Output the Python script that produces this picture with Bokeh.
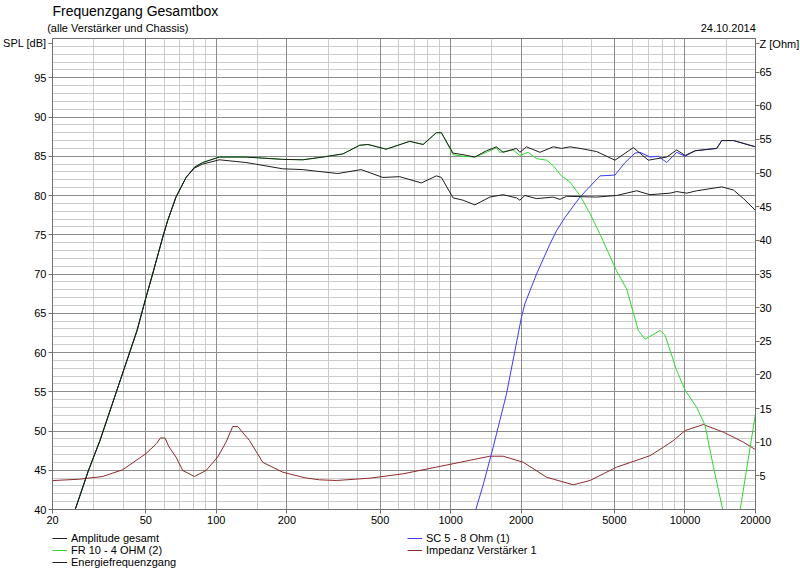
from bokeh.plotting import figure
from bokeh.layouts import column
from bokeh.models import (Range1d, LinearAxis, LogAxis, FixedTicker, Grid, Legend,
                          LegendItem, BasicTickFormatter, Title)
from bokeh.embed import file_html
from bokeh.resources import INLINE

# ---------------- data ----------------
amp_freq = [25.0, 28.5, 31.9, 45.9, 50.1, 53.5, 59.1, 62.0, 67.3, 74.3, 80.7, 87.5, 103, 134,
            192, 234, 285, 347, 409, 444, 531, 669, 763, 869, 913, 1024, 1130, 1268, 1422,
            1568, 1675, 1910, 1974, 2106, 2404, 2740, 2972, 3230, 3564, 4196, 5028, 6020,
            6978, 8356, 9220, 10018, 11052, 13666, 14356, 16108, 20000]
amp_spl = [40.0, 45.0, 48.8, 62.8, 67.0, 70.0, 74.7, 76.8, 79.8, 82.3, 83.6, 84.2, 84.9, 84.9,
           84.6, 84.55, 84.9, 85.3, 86.4, 86.5, 85.9, 86.9, 86.5, 88.0, 88.0, 85.4, 85.2, 84.9, 85.7,
           86.2, 85.5, 86.0, 85.5, 86.2, 85.5, 86.2, 86.0, 86.2, 86.0, 85.6, 84.5, 86.1,
           84.5, 84.9, 85.8, 85.1, 85.7, 86.0, 87.0, 87.0, 86.2]

energy_freq = [25.0, 28.5, 31.9, 45.9, 50.1, 53.5, 59.1, 62.0, 67.3, 74.3, 80.7, 87.5, 103, 134,
               147, 192, 234, 267, 330, 415, 514, 606, 750, 869, 913, 1024, 1130, 1268, 1470,
               1675, 1910, 1974, 2074, 2326, 2740, 2926, 3124, 4196, 5108, 6218, 7096, 8642,
               9220, 10172, 11226, 14356, 16108, 17774, 20000]
energy_spl = [40.0, 45.0, 48.8, 62.8, 67.0, 70.0, 74.7, 76.8, 79.8, 82.3, 83.5, 84.0, 84.55, 84.2,
              84.0, 83.4, 83.3, 83.1, 82.8, 83.3, 82.3, 82.4, 81.6, 82.5, 82.3, 79.7, 79.4, 78.8, 79.8,
              80.1, 79.7, 79.4, 80.0, 79.6, 79.8, 79.5, 79.9, 79.8, 80.0, 80.6, 80.1, 80.3,
              80.5, 80.3, 80.6, 81.1, 80.7, 79.6, 78.1]

fr10_freq = [25.0, 28.5, 31.9, 45.9, 50.1, 53.5, 59.1, 62.0, 67.3, 74.3, 80.7, 87.5, 103, 134,
             192, 234, 285, 347, 409, 444, 531, 669, 763, 869, 913, 1024, 1130, 1268, 1422,
             1568, 1620, 1848, 1974, 2142, 2326, 2566, 2740, 2972, 3230, 3564, 3932, 4338,
             5108, 5636, 6325, 6756, 7830, 8226, 9220, 10018, 11226, 12190, 13228, 14498,
             17206, 20000]
fr10_spl = [40.0, 45.0, 48.8, 62.8, 67.0, 70.0, 74.7, 76.8, 79.8, 82.3, 83.6, 84.2, 84.9, 84.9,
            84.6, 84.55, 84.9, 85.3, 86.4, 86.5, 85.9, 86.9, 86.5, 88.0, 88.0, 85.2, 85.0, 84.9, 85.5,
            86.1, 85.5, 85.8, 85.1, 85.5, 84.7, 84.5, 83.8, 82.5, 81.7, 80.0, 77.7, 75.1,
            70.4, 68.1, 62.8, 61.7, 62.8, 62.2, 57.7, 55.2, 53.0, 50.7, 45.4, 40.0,
            40.0, 52.2]

sc5_freq = [20, 1281, 1376, 1518, 1731, 2006, 2074, 2326, 2652, 2830, 3074, 3564, 4338, 5028,
            5550, 6122, 6432, 7096, 7700, 8356, 9220, 10018, 11052, 13666, 14356, 16108, 20000]
sc5_spl = [40.0, 40.0, 43.1, 47.9, 54.7, 64.5, 66.2, 70.0, 73.8, 75.5, 77.2, 79.8, 82.5, 82.6,
           84.2, 85.4, 85.5, 84.9, 85.0, 84.2, 85.5, 85.0, 85.7, 86.0, 87.0, 87.0, 86.2]

imp_freq = [20, 26, 32.7, 39.8, 50.1, 55.6, 57.8, 60.5, 62.6, 67.3, 71.9, 80.7, 90.4, 101.4, 110,
            117.5, 123.5, 138.6, 158, 192, 240, 276, 325, 451, 626, 1024, 1470, 1675, 2039,
            2566, 3336, 3932, 5108, 7096, 8088, 8926, 10018, 11990, 14596, 17774, 20000]
imp_ohm = [4.3, 4.5, 4.9, 5.9, 8.3, 9.8, 10.65, 10.6, 9.4, 7.8, 5.8, 4.9, 5.8, 7.8, 10.0,
           12.33, 12.33, 10.25, 7.0, 5.55, 4.7, 4.41, 4.31, 4.65, 5.3, 6.8, 7.92, 7.92, 7.03,
           4.8, 3.67, 4.31, 6.29, 8.0, 9.26, 10.25, 11.74, 12.63, 11.49, 10.0, 8.9]

x_ticks = [20, 50, 100, 200, 500, 1000, 2000, 5000, 10000, 20000]
x_grid_major = [50, 100, 200, 500, 1000, 2000, 5000, 10000]
x_grid_minor = [30, 40, 60, 70, 80, 90, 150, 300, 400, 600, 700, 800, 900, 1500,
                3000, 4000, 6000, 7000, 8000, 9000, 15000]
spl_ticks = [40, 45, 50, 55, 60, 65, 70, 75, 80, 85, 90, 95]
spl_grid_minor = [v for v in range(41, 100) if v % 5 != 0]
z_ticks = [5, 10, 15, 20, 25, 30, 35, 40, 45, 50, 55, 60, 65]

title_text = "Frequenzgang Gesamtbox"
subtitle_text = "(alle Verstärker und Chassis)"
date_text = "24.10.2014"
left_label = "SPL [dB]"
right_label = "Z [Ohm]"
# anchor positions (axis units) for the header / unit captions
subtitle_at = 38
date_at = 15300
left_label_at = 99.4
right_label_at = 69.25

series_names = ["Amplitude gesamt", "FR 10 - 4 OHM (2)", "Energiefrequenzgang",
                "SC 5 - 8 Ohm (1)", "Impedanz Verstärker 1"]
series_colors = ["#1e1e1e", "#2fd82f", "#1e1e1e", "#3a3aff", "#8e2a2a"]
series_x = [amp_freq, fr10_freq, energy_freq, sc5_freq, imp_freq]
series_y = [amp_spl, fr10_spl, energy_spl, sc5_spl, imp_ohm]

# ---------------- main figure ----------------
FONT = "Liberation Sans"
AX = "#707070"

p = figure(frame_width=703, frame_height=471, x_axis_type="log",
           x_range=Range1d(20, 20000), y_range=Range1d(40, 100),
           output_backend="svg", toolbar_location=None,
           min_border_left=50, min_border_right=46, min_border_top=38, min_border_bottom=22)
p.background_fill_color = "white"
p.border_fill_color = "white"
p.outline_line_color = AX
p.xgrid.visible = False
p.ygrid.visible = False

p.extra_y_ranges = {"z": Range1d(0, 70)}
zaxis = LinearAxis(y_range_name="z")
p.add_layout(zaxis, "right")

for ax in [p.xaxis[0], p.yaxis[0], zaxis]:
    ax.axis_line_color = AX
    ax.major_tick_line_color = AX
    ax.major_tick_out = 4
    ax.major_tick_in = 0
    ax.minor_tick_line_color = None
    ax.major_label_text_font = FONT
    ax.major_label_text_font_size = "11px"
    ax.major_label_text_color = "black"
    ax.major_label_standoff = 2
zaxis.major_label_standoff = 0

p.xaxis[0].ticker = FixedTicker(ticks=x_ticks)
p.xaxis[0].formatter = BasicTickFormatter(use_scientific=False)
p.yaxis[0].ticker = FixedTicker(ticks=spl_ticks + [left_label_at])
p.yaxis[0].major_label_overrides = {left_label_at: left_label}
zaxis.ticker = FixedTicker(ticks=z_ticks + [right_label_at])
zaxis.major_label_overrides = {right_label_at: right_label}

# header row: subtitle (left) and date (right)
head = LogAxis(ticker=FixedTicker(ticks=[subtitle_at, date_at]))
head.major_label_overrides = {subtitle_at: subtitle_text, date_at: date_text}
head.axis_line_color = None
head.major_tick_line_color = None
head.minor_tick_line_color = None
head.major_tick_out = 0
head.major_tick_in = 0
head.major_label_standoff = 5
head.major_label_text_font = FONT
head.major_label_text_font_size = "11px"
head.major_label_text_color = "black"
p.add_layout(head, "above")

p.add_layout(Title(text=title_text, align="left", text_font=FONT, text_font_size="14px",
                   text_font_style="normal", text_color="black", standoff=0), "above")

p.add_layout(Grid(dimension=0, ticker=FixedTicker(ticks=x_grid_minor), grid_line_color="#cccccc"))
p.add_layout(Grid(dimension=1, ticker=FixedTicker(ticks=spl_grid_minor), grid_line_color="#cccccc"))
p.add_layout(Grid(dimension=0, ticker=FixedTicker(ticks=x_grid_major), grid_line_color="#8c8c8c"))
p.add_layout(Grid(dimension=1, ticker=FixedTicker(ticks=spl_ticks), grid_line_color="#8c8c8c"))

p.line(imp_freq, imp_ohm, y_range_name="z", line_color=series_colors[4], line_width=1)
p.line(fr10_freq, fr10_spl, line_color=series_colors[1], line_width=1)
p.line(sc5_freq, sc5_spl, line_color=series_colors[3], line_width=1)
p.line(energy_freq, energy_spl, line_color=series_colors[2], line_width=1)
p.line(amp_freq, amp_spl, line_color=series_colors[0], line_width=1)

# ---------------- legend strip below the chart ----------------
lg_fig = figure(width=800, height=42, x_range=Range1d(0, 1), y_range=Range1d(0, 1),
                output_backend="svg", toolbar_location=None,
                x_axis_location=None, y_axis_location=None, min_border=0)
lg_fig.grid.visible = False
lg_fig.outline_line_color = None
lg_fig.background_fill_color = "white"
lg_fig.border_fill_color = "white"

# legend keys: the same series, lying outside this strip's (0..1) view so only the keys show
keys = [lg_fig.line(series_x[i], series_y[i], line_color=series_colors[i], line_width=1)
        for i in range(len(series_names))]

def make_legend(idx, loc):
    lg = Legend(items=[LegendItem(label=series_names[i], renderers=[keys[i]]) for i in idx],
                location=loc, orientation="vertical")
    lg.glyph_width = 15
    lg.glyph_height = 12
    lg.label_height = 12
    lg.label_standoff = 4
    lg.spacing = 0
    lg.padding = 0
    lg.margin = 0
    lg.border_line_alpha = 0
    lg.background_fill_alpha = 0
    lg.label_text_font = FONT
    lg.label_text_font_size = "11px"
    lg.label_text_color = "black"
    return lg

lg_fig.add_layout(make_legend([0, 1, 2], (0, 5)))
lg_fig.add_layout(make_legend([3, 4], (355, 17)))

open("out.html", "w").write(file_html(column(p, lg_fig, spacing=0), INLINE))
